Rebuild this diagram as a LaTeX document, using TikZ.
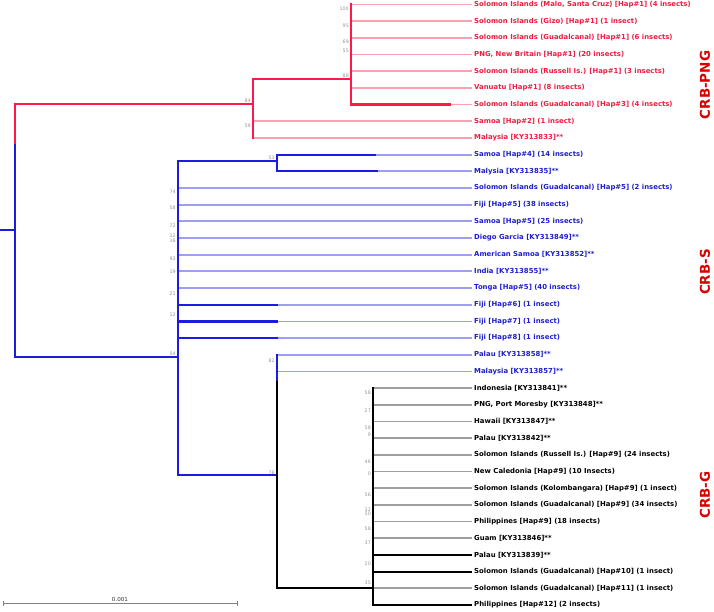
\documentclass[tikz,border=0pt]{standalone}
\usepackage{fontspec}
\setmainfont{DejaVu Sans}
\definecolor{redthick}{RGB}{255,25,72}
\definecolor{pinkthin}{RGB}{255,158,176}
\definecolor{leafred}{RGB}{238,28,64}
\definecolor{bluethick}{RGB}{28,28,225}
\definecolor{bluethin}{RGB}{158,158,242}
\definecolor{leafblue}{RGB}{30,30,205}
\definecolor{greythin}{RGB}{158,158,158}
\definecolor{bsgrey}{RGB}{150,150,150}
\definecolor{cladered}{RGB}{218,0,0}
\begin{document}
\begin{tikzpicture}[x=1pt,y=-1pt,
  br/.style={line width=2.2pt,line cap=rect},
  lf/.style={line width=1.8pt},
  leaftext/.style={anchor=west,inner sep=0pt,font=\bfseries\fontsize{6.9}{8}\selectfont},
  bs/.style={anchor=east,inner sep=0pt,font=\fontsize{4.8}{5}\selectfont,text=bsgrey},
  clade/.style={rotate=90,inner sep=0pt,font=\bfseries\fontsize{13.5}{15}\selectfont,text=cladered}]
\useasboundingbox (0,0) rectangle (714,612);

% leaf tips and labels
\foreach \i/\t in {1/{Solomon Islands (Malo, Santa Cruz) [Hap\#1] (4 insects)},
  2/{Solomon Islands (Gizo) [Hap\#1] (1 insect)},
  3/{Solomon Islands (Guadalcanal) [Hap\#1] (6 insects)},
  4/{PNG, New Britain [Hap\#1] (20 insects)},
  5/{Solomon Islands (Russell Is.) [Hap\#1] (3 insects)},
  6/{Vanuatu [Hap\#1] (8 insects)},
  7/{Solomon Islands (Guadalcanal) [Hap\#3] (4 insects)},
  8/{Samoa [Hap\#2] (1 insect)},
  9/{Malaysia [KY313833]**}}{
  \coordinate (L\i) at (472,{4.5+(\i-1)*16.68});
  \node[leaftext,text=leafred] (t\i) at (474,{4.5+(\i-1)*16.68}) {\t};
}
\foreach \i/\t in {10/{Samoa [Hap\#4] (14 insects)},
  11/{Malysia [KY313835]**},
  12/{Solomon Islands (Guadalcanal) [Hap\#5] (2 insects)},
  13/{Fiji [Hap\#5] (38 insects)},
  14/{Samoa [Hap\#5] (25 insects)},
  15/{Diego Garcia [KY313849]**},
  16/{American Samoa [KY313852]**},
  17/{India [KY313855]**},
  18/{Tonga [Hap\#5] (40 insects)},
  19/{Fiji [Hap\#6] (1 insect)},
  20/{Fiji [Hap\#7] (1 insect)},
  21/{Fiji [Hap\#8] (1 insect)},
  22/{Palau [KY313858]**},
  23/{Malaysia [KY313857]**}}{
  \coordinate (L\i) at (472,{4.5+(\i-1)*16.68});
  \node[leaftext,text=leafblue] (t\i) at (474,{4.5+(\i-1)*16.68}) {\t};
}
\foreach \i/\t in {24/{Indonesia [KY313841]**},
  25/{PNG, Port Moresby [KY313848]**},
  26/{Hawaii [KY313847]**},
  27/{Palau [KY313842]**},
  28/{Solomon Islands (Russell Is.) [Hap\#9] (24 insects)},
  29/{New Caledonia [Hap\#9] (10 Insects)},
  30/{Solomon Islands (Kolombangara) [Hap\#9] (1 insect)},
  31/{Solomon Islands (Guadalcanal) [Hap\#9] (34 insects)},
  32/{Philippines [Hap\#9] (18 insects)},
  33/{Guam [KY313846]**},
  34/{Palau [KY313839]**},
  35/{Solomon Islands (Guadalcanal) [Hap\#10] (1 insect)},
  36/{Solomon Islands (Guadalcanal) [Hap\#11] (1 insect)},
  37/{Philippines [Hap\#12] (2 insects)}}{
  \coordinate (L\i) at (472,{4.5+(\i-1)*16.68});
  \node[leaftext,text=black] (t\i) at (474,{4.5+(\i-1)*16.68}) {\t};
}

% internal nodes
\coordinate (root) at (0,230);
\coordinate (r0) at (15,230);
\coordinate (rsw) at (15,143);
\coordinate (cR) at (253,104);
\coordinate (cRi) at (351,79);
\coordinate (cB) at (178,357);
\coordinate (cB1) at (277,161);
\coordinate (cB2) at (277,475);
\coordinate (bsw) at (277,380);
\coordinate (cG) at (373,588);
\coordinate (k7) at (450,{4.5+6*16.68});
\coordinate (k10) at (375,{4.5+9*16.68});
\coordinate (k11) at (377,{4.5+10*16.68});

% ---- leaf branches (thin) ----
\foreach \i in {1,...,6} \draw[lf,pinkthin] (cRi|-L\i) -- (L\i);
\draw[lf,pinkthin] (k7) -- (L7);
\foreach \i in {8,9} \draw[lf,pinkthin] (cR|-L\i) -- (L\i);
\draw[lf,bluethin] (k10) -- (L10);
\draw[lf,bluethin] (k11) -- (L11);
\foreach \i in {12,...,18} \draw[lf,bluethin] (cB|-L\i) -- (L\i);
\foreach \i in {19,20,21} \draw[lf,bluethin] (cB1|-L\i) -- (L\i);
\foreach \i in {22,23} \draw[lf,bluethin] (cB2|-L\i) -- (L\i);
\foreach \i in {24,...,33,36} \draw[lf,greythin] (cG|-L\i) -- (L\i);
\foreach \i in {34,35,37} \draw[br,line cap=butt,black] (cG|-L\i) -- (L\i);

% ---- thick branches ----
\draw[br,redthick] (cRi|-L7) -- (k7);
\draw[br,bluethick] (cB1|-L10) -- (k10);
\draw[br,bluethick] (cB1|-L11) -- (k11);
\foreach \i in {19,20,21} \draw[br,bluethick] (cB|-L\i) -- (cB1|-L\i);

% root
\draw[br,bluethick] (root) -- (r0);
\draw[br,bluethick] (rsw) -- (r0|-cB);
\draw[br,redthick] (r0|-cR) -- (rsw);
\draw[br,redthick] (r0|-cR) -- (cR);
\draw[br,bluethick] (r0|-cB) -- (cB);

% red clade
\draw[br,redthick] (cR|-cRi) -- (cR|-L9);
\draw[br,redthick] (cR|-cRi) -- (cRi);
\draw[br,redthick] (cRi|-L1) -- (cRi|-L7);

% blue clade
\draw[br,bluethick] (cB|-cB1) -- (cB|-cB2);
\draw[br,bluethick] (cB|-cB1) -- (cB1);
\draw[br,bluethick] (cB1|-L10) -- (cB1|-L11);
\draw[br,bluethick] (cB|-cB2) -- (cB2);
\draw[br,black] (cB2|-cG) -- (cG);
\draw[br,black] (bsw) -- (cB2|-cG);
\draw[br,bluethick] (cB2|-L22) -- (bsw);

% G clade
\draw[br,black] (cG|-L24) -- (cG|-L37);

% ---- support values ----
\node[bs] (b1) at (349,9) {100};
\node[bs] (b2) at (349,26) {95};
\node[bs] (b3) at (349,42) {69};
\node[bs] (b4) at (349,51) {55};
\node[bs] (b5) at (349,76) {88};
\node[bs] (b6) at (251,101) {84};
\node[bs] (b7) at (251,126) {59};
\node[bs] (b8) at (275,158) {53};
\node[bs] (b9) at (176,192) {74};
\node[bs] (b10) at (176,208) {58};
\node[bs] (b11) at (176,226) {72};
\node[bs] (b12) at (176,236) {12};
\node[bs] (b13) at (176,240.5) {16};
\node[bs] (b14) at (176,259) {93};
\node[bs] (b15) at (176,272) {19};
\node[bs] (b16) at (176,294) {21};
\node[bs] (b17) at (176,315) {12};
\node[bs] (b18) at (176,354) {54};
\node[bs] (b19) at (275,361) {82};
\node[bs] (b20) at (275,473) {76};
\node[bs] (b21) at (371,393) {58};
\node[bs] (b22) at (371,411) {27};
\node[bs] (b23) at (371,428) {58};
\node[bs] (b24) at (371,435) {9};
\node[bs] (b25) at (371,462) {46};
\node[bs] (b26) at (371,474) {0};
\node[bs] (b27) at (371,495) {56};
\node[bs] (b28) at (371,510) {32};
\node[bs] (b29) at (371,514) {50};
\node[bs] (b30) at (371,529) {58};
\node[bs] (b31) at (371,543) {37};
\node[bs] (b32) at (371,564) {20};
\node[bs] (b33) at (371,583) {35};

% ---- clade labels ----
\node[clade] (crbpng) at (705,85) {CRB-PNG};
\node[clade] (crbs) at (705,272) {CRB-S};
\node[clade] (crbg) at (705,495) {CRB-G};

% ---- scale bar ----
\coordinate (sb1) at (3,603);
\coordinate (sb2) at (237,603);
\draw[line width=0.8pt,gray] (sb1) -- (sb2);
\draw[line width=0.8pt,gray] ([yshift=2.5pt]sb1) -- ([yshift=-2.5pt]sb1);
\draw[line width=0.8pt,gray] ([yshift=2.5pt]sb2) -- ([yshift=-2.5pt]sb2);
\node[inner sep=0pt,font=\fontsize{5.6}{6}\selectfont,text=black!80] (sbl) at (120,599.5) {0.001};
\end{tikzpicture}
\end{document}
